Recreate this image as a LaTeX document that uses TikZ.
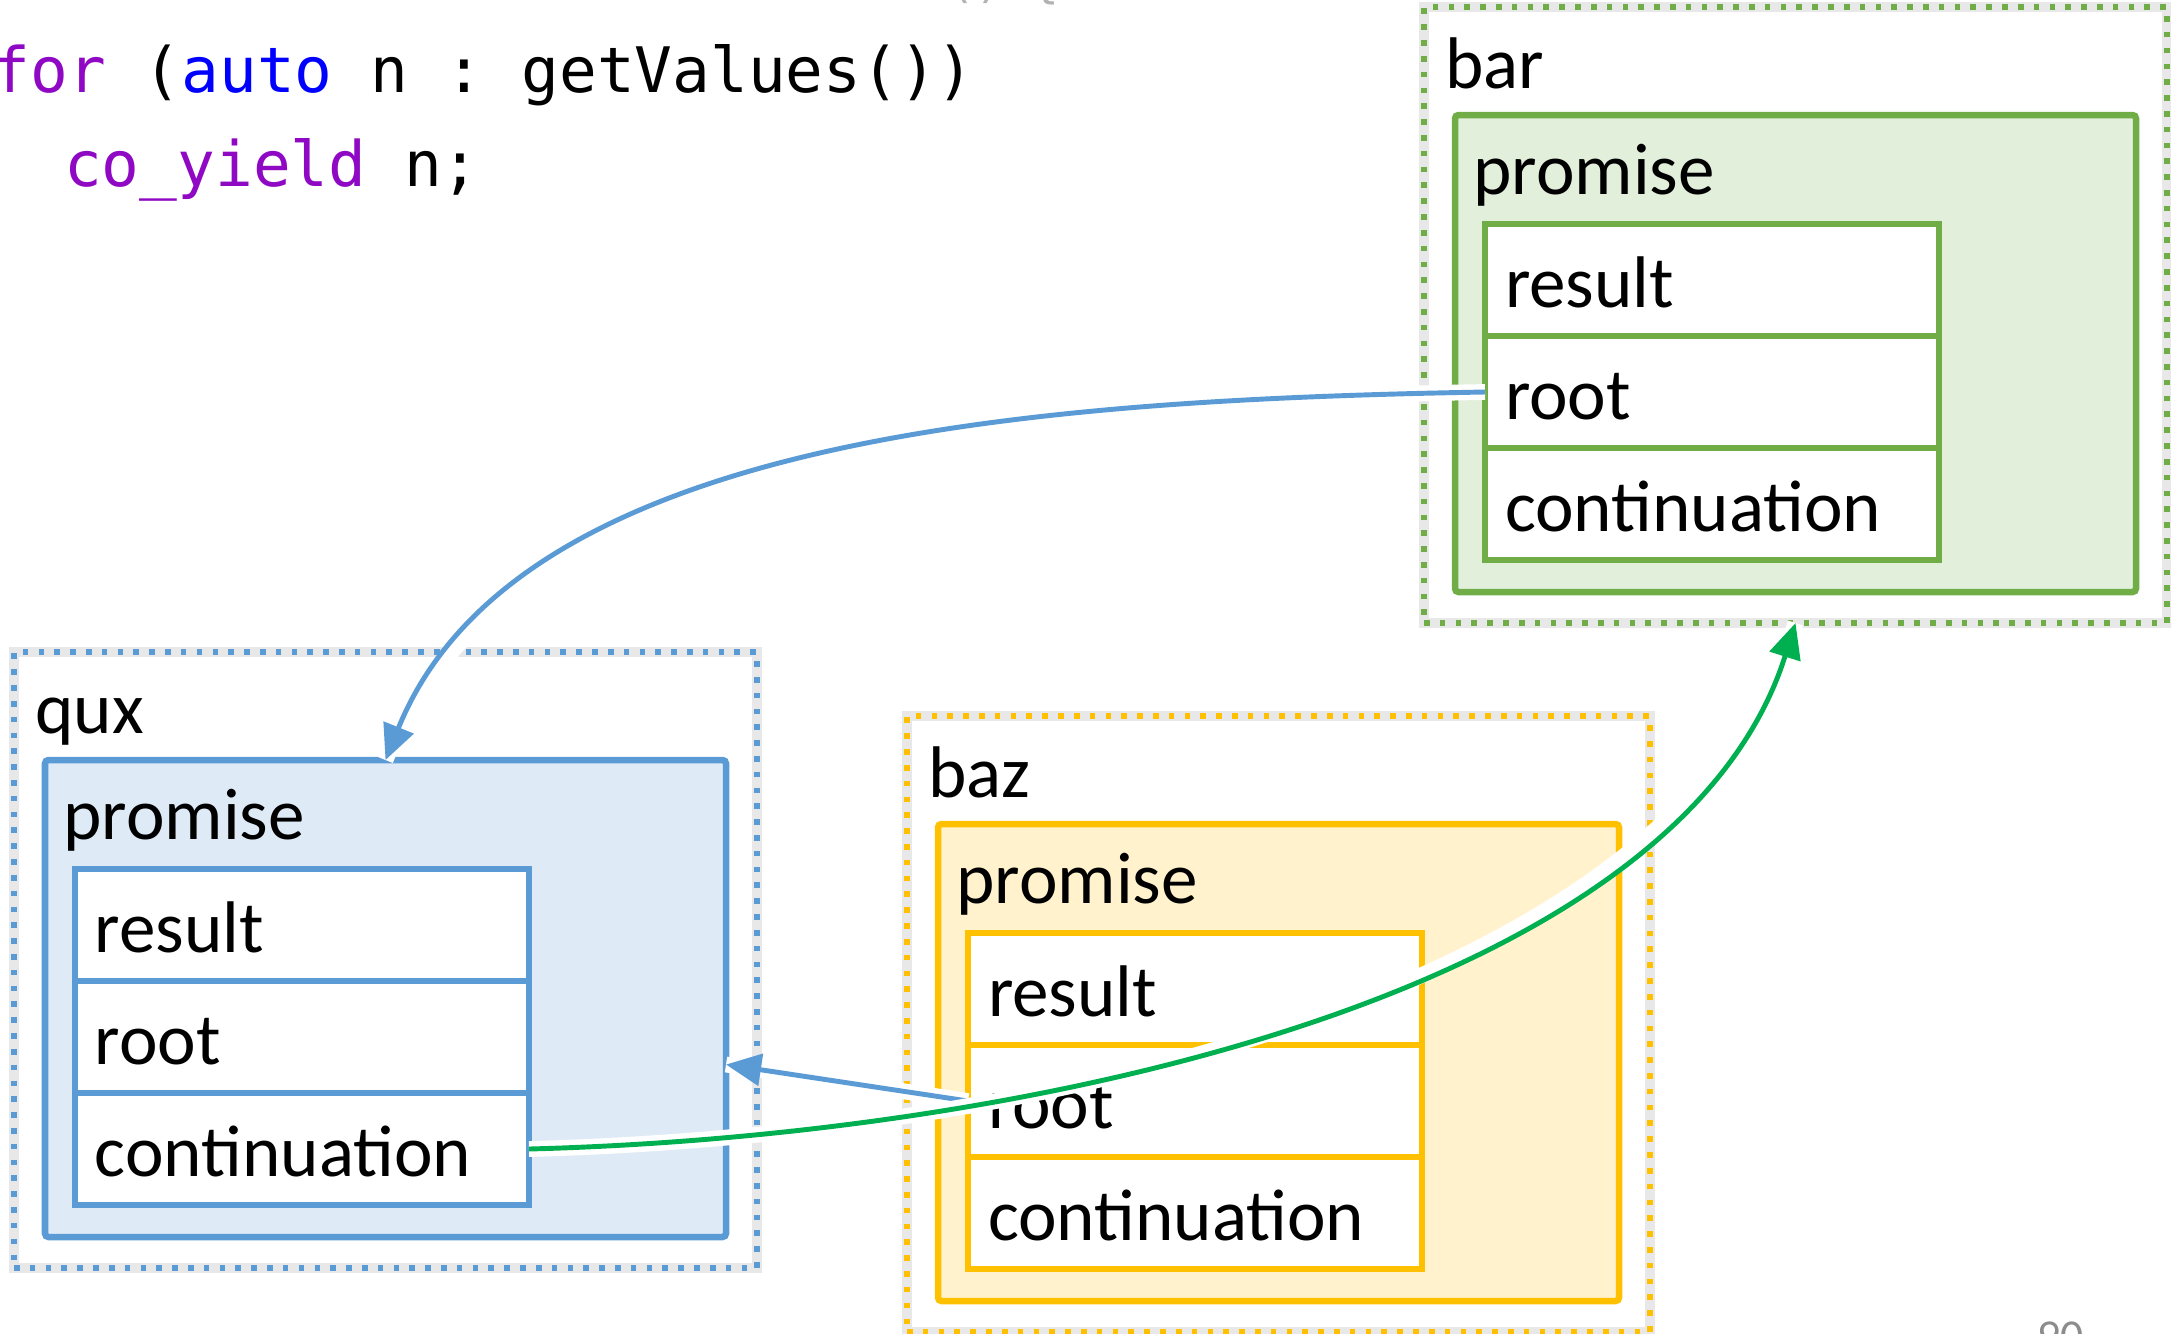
\documentclass[tikz,border=0pt]{standalone}
\usepackage{fontspec}
\setmainfont{Carlito}
\setmonofont{DejaVu Sans Mono}
\usetikzlibrary{positioning, arrows.meta, calc}
\definecolor{mGreen}{HTML}{70AD47}
\definecolor{mBlue}{HTML}{5B9BD5}
\definecolor{mGold}{HTML}{FFC000}
\definecolor{mArrow}{HTML}{00B050}
\definecolor{mKey}{HTML}{8F08C4}
\definecolor{mType}{HTML}{0000FF}

\begin{document}
\begin{tikzpicture}[
  every node/.style={font=\fontsize{20.8}{25}\selectfont},
  code/.style={anchor=base west, inner sep=0pt, font=\ttfamily\fontsize{17.85}{21}\selectfont},
  frm/.style={draw=#1, line width=1.7pt, dash pattern=on 1.6pt off 2.9pt,
              preaction={draw=black!9, solid, line width=2.6pt},
              minimum width=7.43cm, minimum height=6.16cm,
              inner sep=0pt, outer sep=0pt, anchor=north west},
  prm/.style={draw=#1, fill=#1!20, line width=1.85pt, rounded corners=1pt,
              minimum width=6.81cm, minimum height=4.77cm,
              inner sep=0pt, outer sep=0pt, anchor=north west},
  fld/.style={draw=#1, fill=white, line width=1.85pt, text width=4.14cm, align=left,
              inner xsep=0.2cm, inner ysep=0pt, minimum height=1.12cm,
              text height=0.54cm, text depth=0cm, outer sep=0pt},
  arr/.style={line width=1.4pt, -{Triangle[length=10pt,width=9pt]},
              preaction={draw=white, line width=4.5pt, -}},
]
  \useasboundingbox (0,0) rectangle (21.71,-13.33);

  % Code
  \node[code, text=black!30, font=\ttfamily\fontsize{13.2}{16}\selectfont] (hdr) at (9.47,0.03) {() \{};
  \node[code] (code1) at (-0.08,-0.92)
    {\textcolor{mKey}{for} (\textcolor{mType}{auto} n : getValues())};
  \node[code] (code2) at (0.635,-1.86) {\textcolor{mKey}{co\_yield} n;};

  % Frames with promise
  \foreach \nm/\col/\x/\y in {bar/mGreen/14.24/-0.07, qux/mBlue/0.14/-6.52, baz/mGold/9.07/-7.16} {
    \node[frm=\col] (\nm) at (\x,\y) {};
    \node[anchor=base west] (\nm-lbl) at ([xshift=0.09cm, yshift=-0.81cm]\nm.north west) {\nm};
    \node[prm=\col] (\nm-prom) at ([xshift=0.31cm, yshift=-1.08cm]\nm.north west) {};
    \node[anchor=base west] (\nm-plbl) at ([xshift=0.06cm, yshift=-0.79cm]\nm-prom.north west) {promise};
    \node[fld=\col, anchor=north west] (\nm-res) at ([xshift=0.3cm, yshift=-1.09cm]\nm-prom.north west) {result};
    \node[fld=\col, below=0pt of \nm-res] (\nm-root) {root};
    \node[fld=\col, below=0pt of \nm-root] (\nm-cont) {continuation};
  }

  % Links
  \draw[arr, mBlue] (bar-root.west) .. controls +(-4.5,-0.08) and +(1.31,3.24) .. (qux-prom.north);
  \draw[arr, mBlue] (baz-root.west) -- ([yshift=-0.66cm]qux-prom.east);
  \draw[arr, mArrow] (qux-cont.east) .. controls +(4.97,0.13) and +(-1.18,-3.74) .. (bar.south);

  % Page number
  \node[anchor=base west, inner sep=0pt, text=black!45, font=\fontsize{13}{16}\selectfont] (pgno) at (20.37,-13.51) {90};
\end{tikzpicture}
\end{document}
